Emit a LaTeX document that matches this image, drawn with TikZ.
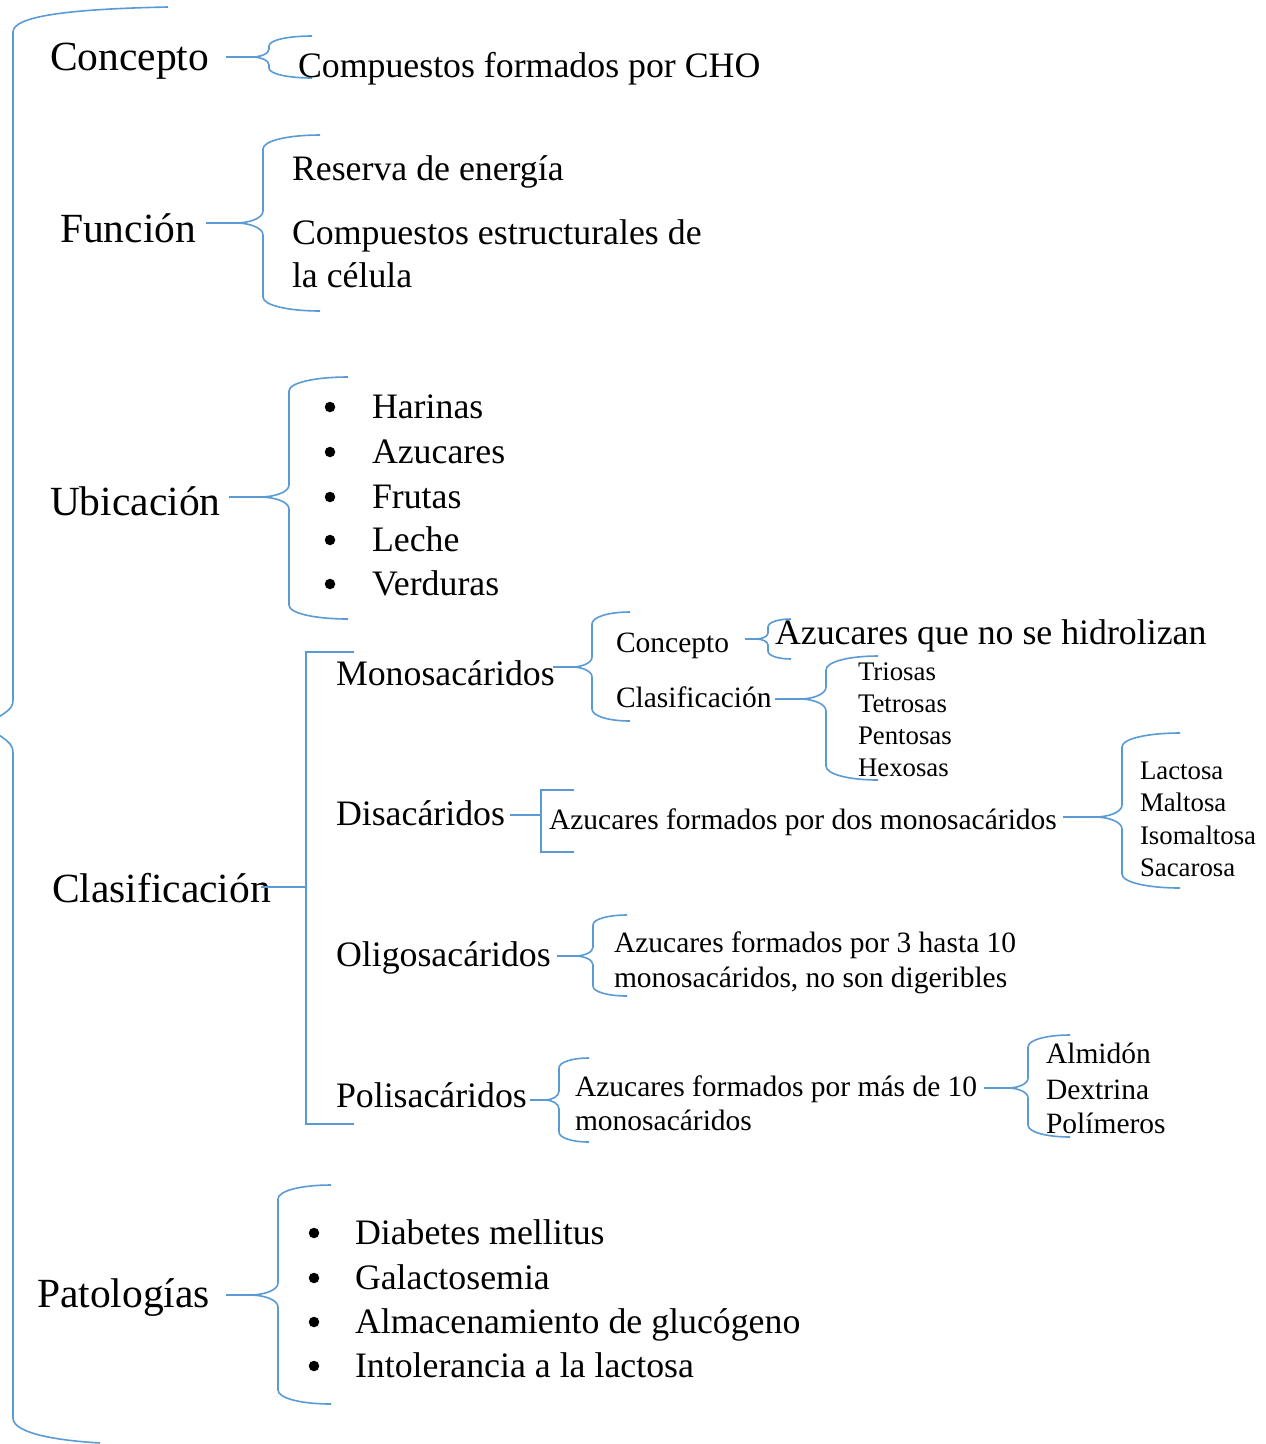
\documentclass[tikz,border=0pt]{standalone}
\usepackage{fontspec}
\setmainfont{Liberation Serif}
\definecolor{wblue}{RGB}{91,155,213}
% #1 vx, #2 ytop, #3 ybot, #4 ytip, #5 tipx, #6 endx, #7 end radius, #8 mid radius, #9 tip name
\newcommand\wbrace[9]{%
  \coordinate (#9) at (#5,#4);
  \draw[brc] (#6,#2) .. controls ({#1+0.45*(#6-#1)},#2) and (#1,{#2+0.4*#7}) .. (#1,{#2+#7})
   -- (#1,{#4-#8}) .. controls (#1,{#4-0.4*#8}) and ({#5+0.5*(#1-#5)},#4) .. (#9)
   .. controls ({#5+0.5*(#1-#5)},#4) and (#1,{#4+0.4*#8}) .. (#1,{#4+#8})
   -- (#1,{#3-#7}) .. controls (#1,{#3-0.4*#7}) and ({#1+0.45*(#6-#1)},#3) .. (#6,#3);}
\begin{document}
\begin{tikzpicture}[x=1pt,y=-1pt,
  brc/.style={draw=wblue,line width=1.6pt},
  txt/.style={anchor=base west,inner sep=0pt,outer sep=0pt},
  big/.style={txt,font=\fontsize{41.5}{48}\selectfont},
  med/.style={txt,font=\fontsize{35.8}{41}\selectfont},
  sml/.style={txt,font=\fontsize{29.5}{34}\selectfont},
  tiny/.style={txt,font=\fontsize{26.8}{31}\selectfont},
  bul/.style={circle,fill=black,inner sep=0pt,minimum size=10.5pt}]
\clip (0,0) rectangle (1266,1444);
\fill[white] (0,0) rectangle (1266,1444);

% main brace
\draw[brc] (168,7) .. controls (70,9) and (13,16) .. (13,32)
  -- (13,700) .. controls (13,710) and (6,712) .. (-16,726)
  .. controls (6,739) and (13,743) .. (13,753)
  -- (13,1418) .. controls (13,1432) and (50,1440) .. (100,1443);

% level 1 labels
\node[big] (concepto) at (50,70) {Concepto};
\node[big] (funcion) at (60,242) {Funci\'on};
\node[big] (ubicacion) at (50,515) {Ubicaci\'on};
\node[big] (clasif) at (52,902) {Clasificaci\'on};
\node[big] (patol) at (37,1307) {Patolog\'{\i}as};

% Concepto
\coordinate (s1) at (226,57);
\wbrace{269}{36}{78}{57}{252}{312}{10}{8}{t1}
\draw[brc] (s1) -- (t1);
\node[med] (cho) at (298,77) {Compuestos formados por CHO};

% Funcion
\coordinate (s2) at (206,223);
\wbrace{263}{135}{311}{223}{236}{320}{14}{12}{t2}
\draw[brc] (s2) -- (t2);
\node[med] (f1) at (292,180) {Reserva de energ\'{\i}a};
\node[med] (f2) at (292,244) {Compuestos estructurales de};
\node[med] (f3) at (292,287) {la c\'elula};

% Ubicacion
\coordinate (s3) at (229,497);
\wbrace{289}{377}{619}{497}{260}{348}{14}{12}{t3}
\draw[brc] (s3) -- (t3);
\foreach \n/\t/\y in {u1/Harinas/407,u2/Azucares/452,u3/Frutas/497,u4/Leche/540,u5/Verduras/584}{
  \node[bul] (b\n) at (330,\y) {};
  \node[med] (\n) at (372,\y+11) {\t};
}

% Clasificacion
\coordinate (s4) at (261,887);
\coordinate (k4) at (306,887);
\draw[brc] (s4) -- (k4);
\draw[brc] (354,652) -- (306,652) -- (306,1124) -- (354,1124);

\node[med] (mono) at (336,685) {Monosac\'aridos};
\node[med] (disa) at (336,825) {Disac\'aridos};
\node[med] (oligo) at (336,966) {Oligosac\'aridos};
\node[med] (poli) at (336,1107) {Polisac\'aridos};

% Monosacaridos
\coordinate (s5) at (553,667);
\wbrace{592}{612}{721}{667}{572}{630}{12}{10}{t5}
\draw[brc] (s5) -- (t5);
\node[sml] (mconc) at (616,652) {Concepto};
\node[sml] (mclas) at (616,707) {Clasificaci\'on};

\coordinate (s6) at (745,639);
\wbrace{768}{619}{659}{639}{756}{791}{8}{6}{t6}
\draw[brc] (s6) -- (t6);
\node[med] (hidro) at (775,644) {Azucares que no se hidrolizan};

\coordinate (s7) at (775,699);
\wbrace{826}{656}{780}{699}{800}{878}{14}{12}{t7}
\draw[brc] (s7) -- (t7);
\foreach \n/\t/\y in {m1/Triosas/672,m2/Tetrosas/704,m3/Pentosas/736,m4/Hexosas/768}{
  \node[tiny] (\n) at (858,\y+8) {\t};
}

% Disacaridos
\coordinate (s8) at (510,815);
\coordinate (k8) at (541,815);
\draw[brc] (s8) -- (k8);
\draw[brc] (574,790) -- (541,790) -- (541,852) -- (574,852);
\node[sml] (dtxt) at (549,829) {Azucares formados por dos monosac\'aridos};

\coordinate (s9) at (1063,817);
\wbrace{1122}{733}{888}{817}{1095}{1180}{14}{12}{t9}
\draw[brc] (s9) -- (t9);
\foreach \n/\t/\y in {d1/Lactosa/771,d2/Maltosa/803,d3/Isomaltosa/836,d4/Sacarosa/868}{
  \node[tiny] (\n) at (1140,\y+8) {\t};
}

% Oligosacaridos
\coordinate (s10) at (557,956);
\wbrace{593}{915}{996}{956}{575}{627}{10}{9}{t10}
\draw[brc] (s10) -- (t10);
\node[sml] (o1) at (614,952) {Azucares formados por 3 hasta 10};
\node[sml] (o2) at (614,987) {monosac\'aridos, no son digeribles};

% Polisacaridos
\coordinate (s11) at (530,1100);
\wbrace{559}{1058}{1142}{1100}{545}{589}{10}{9}{t11}
\draw[brc] (s11) -- (t11);
\node[sml] (p1) at (575,1096) {Azucares formados por m\'as de 10};
\node[sml] (p2) at (575,1130) {monosac\'aridos};

\coordinate (s12) at (984,1088);
\wbrace{1028}{1035}{1137}{1088}{1008}{1070}{12}{10}{t12}
\draw[brc] (s12) -- (t12);
\foreach \n/\t/\y in {q1/Almid\'on/1054,q2/Dextrina/1090,q3/Pol\'{\i}meros/1124}{
  \node[sml] (\n) at (1046,\y+9) {\t};
}

% Patologias
\coordinate (s13) at (226,1295);
\wbrace{278}{1185}{1404}{1295}{250}{331}{14}{12}{t13}
\draw[brc] (s13) -- (t13);
\foreach \n/\t/\y in {a1/Diabetes mellitus/1233,a2/Galactosemia/1278,a3/Almacenamiento de gluc\'ogeno/1322,a4/Intolerancia a la lactosa/1366}{
  \node[bul] (b\n) at (314,\y) {};
  \node[med] (\n) at (355,\y+11) {\t};
}
\end{tikzpicture}
\end{document}
